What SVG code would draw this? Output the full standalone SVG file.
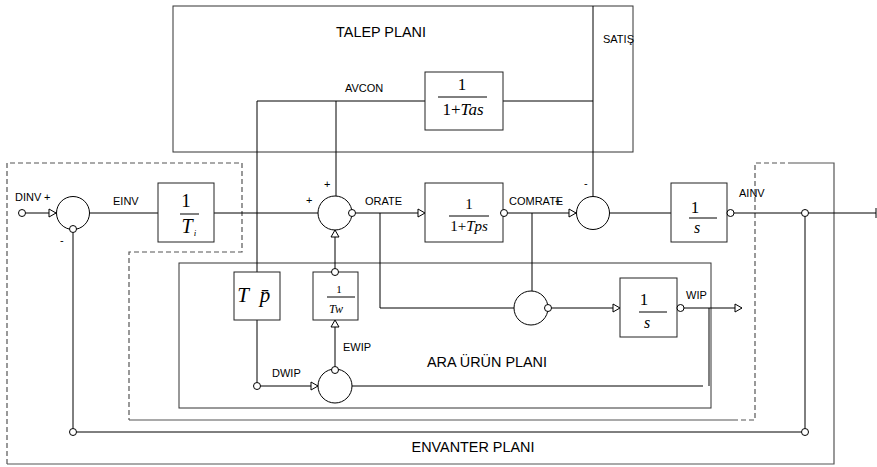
<svg xmlns="http://www.w3.org/2000/svg" width="877" height="467" viewBox="0 0 877 467">
<defs>
<style>
.ln{fill:none;stroke:#000;stroke-width:1}
.blk{fill:#fff;stroke:#222;stroke-width:1}
.sum{fill:#fff;stroke:#000;stroke-width:1}
.dot{fill:#fff;stroke:#000;stroke-width:1}
.plan{fill:none;stroke:#333;stroke-width:1}
.env{fill:none;stroke:#555;stroke-width:1.2}
.dash{stroke-dasharray:5,3}
.lbl{font-family:"Liberation Sans",Arial,sans-serif;font-size:11px;fill:#000}
.ttl{font-family:"Liberation Sans",Arial,sans-serif;font-size:14.4px;fill:#000}
.m{font-family:"Liberation Serif","Times New Roman",serif;fill:#000;text-anchor:middle}
.mi{font-family:"Liberation Serif","Times New Roman",serif;font-style:italic;fill:#000;text-anchor:middle}
</style>
<polygon id="tri" points="-7,-4 0,0 -7,4" fill="#fff" stroke="#000" stroke-width="1"/>
</defs>
<rect width="877" height="467" fill="#fff"/>

<g id="plans">
<rect id="talep" class="plan" x="173" y="6" width="460" height="146"/>
<rect id="ara" class="plan" x="179" y="263" width="532" height="145"/>
<g id="envanter">
<path class="env dash" d="M7,464 V163 H242 V252 H129 V420"/>
<path class="env" d="M129,420 H733"/>
<path class="env dash" d="M733,420 H755 V163 H790"/>
<path class="env" d="M790,163 H834 V464 H7"/>
</g>
<text class="ttl" x="381" y="37" text-anchor="middle">TALEP PLANI</text>
<text class="ttl" x="487" y="367" text-anchor="middle">ARA ÜRÜN PLANI</text>
<text class="ttl" x="473" y="452" text-anchor="middle">ENVANTER PLANI</text>
</g>

<g id="connectors">
<path class="ln" d="M25.5,213 H56"/>
<path class="ln" d="M73,232.5 V428.5"/>
<path class="ln" d="M89.5,213 H158"/>
<path class="ln" d="M214,213 H318"/>
<path class="ln" d="M355.5,213 H425"/>
<path class="ln" d="M380,213 V308 H514"/>
<path class="ln" d="M507.5,213 H576"/>
<path class="ln" d="M532,213 V291"/>
<path class="ln" d="M593,6 V196.5"/>
<path class="ln" d="M609.5,213 H671"/>
<path class="ln" d="M734,213 H801.5"/>
<path class="ln" d="M808.5,213 H876 M876,208 V218"/>
<path class="ln" d="M805,216.5 V428.5"/>
<path class="ln" d="M76.5,432 H801.5"/>
<path class="ln" d="M257,272 V101 H425"/>
<path class="ln" d="M503,101 H593"/>
<path class="ln" d="M336,101 V196"/>
<path class="ln" d="M257,320 V382.5"/>
<path class="ln" d="M260.5,386 H318"/>
<path class="ln" d="M335,366.5 V320"/>
<path class="ln" d="M335,268.5 V229.5"/>
<path class="ln" d="M352,386 H703"/>
<path class="ln" d="M709,308 V386" stroke-width="1.8"/>
<path class="ln" d="M551.5,308 H620"/>
<path class="ln" d="M684,308 H742"/>
<use href="#tri" transform="translate(56,213)"/>
<use href="#tri" transform="translate(425,213)"/>
<use href="#tri" transform="translate(576,213)"/>
<use href="#tri" transform="translate(318,386)"/>
<use href="#tri" transform="translate(335,320) rotate(-90)"/>
<use href="#tri" transform="translate(335,230) rotate(-90)"/>
<use href="#tri" transform="translate(620,308)"/>
<use href="#tri" transform="translate(742,308)"/>
<circle class="dot" cx="22" cy="213" r="3.5"/>
<circle class="dot" cx="805" cy="213" r="3.5"/>
<circle class="dot" cx="805" cy="432" r="3.5"/>
<circle class="dot" cx="73" cy="432" r="3.5"/>
<circle class="dot" cx="257" cy="386" r="3.5"/>
</g>

<g id="sum1">
<circle class="sum" cx="73" cy="213" r="16.5"/>
<circle class="dot" cx="73" cy="229" r="3.5"/>
<text class="lbl" x="15" y="201">DINV</text>
<text class="lbl" x="44" y="201">+</text>
<text class="lbl" x="60" y="244">-</text>
</g>

<g id="Ti">
<rect class="blk" x="158" y="183" width="56" height="59"/>
<text class="m" x="186" y="207" font-size="19">1</text>
<line x1="180" y1="214" x2="199" y2="214" stroke="#000"/>
<text class="mi" x="187" y="233" font-size="20">T</text>
<text class="mi" x="195" y="236" font-size="9">i</text>
<text class="lbl" x="113" y="205">EINV</text>
</g>

<g id="sum2">
<circle class="sum" cx="335" cy="213" r="17"/>
<circle class="dot" cx="352" cy="213" r="3.5"/>
<text class="lbl" x="306" y="204">+</text>
<text class="lbl" x="324" y="188">+</text>
<text class="lbl" x="365" y="205">ORATE</text>
</g>

<g id="Tps">
<rect class="blk" x="425" y="183" width="78" height="59"/>
<text class="m" x="469" y="209" font-size="15">1</text>
<line x1="449" y1="216" x2="489" y2="216" stroke="#000"/>
<text class="m" x="469" y="231" font-size="15">1+<tspan font-style="italic">Tps</tspan></text>
<circle class="dot" cx="504" cy="213" r="3.5"/>
<text class="lbl" x="509" y="205">COMRATE</text>
<text class="lbl" x="555" y="205">+</text>
</g>

<g id="sum3">
<circle class="sum" cx="593" cy="213" r="16.5"/>
<text class="lbl" x="584" y="187">-</text>
</g>

<g id="integ1">
<rect class="blk" x="671" y="183" width="56" height="59"/>
<text class="m" x="695" y="213" font-size="17">1</text>
<line x1="689" y1="218" x2="717" y2="218" stroke="#000"/>
<text class="mi" x="697" y="233" font-size="16">s</text>
<circle class="dot" cx="730.5" cy="213" r="3.5"/>
<text class="lbl" x="739" y="197">AINV</text>
</g>

<g id="Tas">
<rect class="blk" x="425" y="72" width="78" height="58"/>
<text class="m" x="462" y="90" font-size="17">1</text>
<line x1="438" y1="97" x2="487" y2="97" stroke="#000"/>
<text class="m" x="463" y="115" font-size="17">1+<tspan font-style="italic">Tas</tspan></text>
<text class="lbl" x="345" y="92">AVCON</text>
<text class="lbl" x="603" y="43">SATIŞ</text>
</g>

<g id="Tp">
<rect class="blk" x="234" y="272" width="46" height="48"/>
<text class="mi" x="243" y="302" font-size="21">T</text>
<text class="mi" x="265" y="302" font-size="21">p&#x304;</text>
</g>

<g id="Tw">
<rect class="blk" x="313" y="272" width="45" height="48"/>
<circle class="dot" cx="335" cy="272" r="3.5"/>
<text class="m" x="339" y="293" font-size="11">1</text>
<line x1="327" y1="297" x2="355" y2="297" stroke="#000"/>
<text class="mi" x="336" y="313" font-size="12">Tw</text>
<text class="lbl" x="343" y="351">EWIP</text>
</g>

<g id="sum4">
<circle class="sum" cx="335" cy="386" r="17"/>
<circle class="dot" cx="335" cy="370" r="3.5"/>
<text class="lbl" x="272" y="377">DWIP</text>
</g>

<g id="sum5">
<circle class="sum" cx="531" cy="308" r="17"/>
<circle class="dot" cx="548" cy="308" r="3.5"/>
</g>

<g id="integ2">
<rect class="blk" x="620" y="278" width="57" height="59"/>
<text class="m" x="644" y="305" font-size="17">1</text>
<line x1="639" y1="312" x2="667" y2="312" stroke="#000"/>
<text class="mi" x="647" y="328" font-size="16">s</text>
<circle class="dot" cx="680.5" cy="308" r="3.5"/>
<text class="lbl" x="686" y="299">WIP</text>
</g>
</svg>
